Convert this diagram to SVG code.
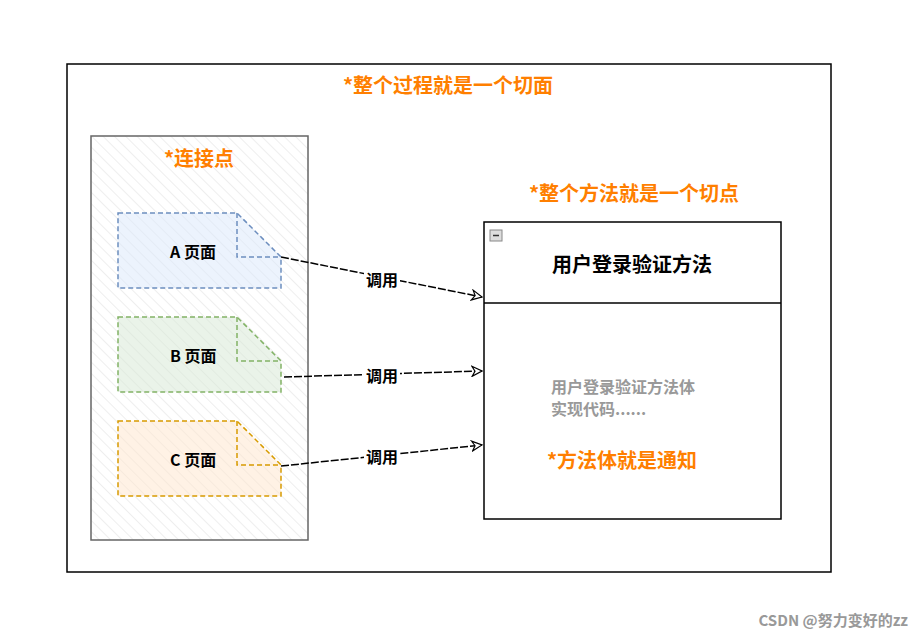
<svg xmlns="http://www.w3.org/2000/svg" width="922" height="638" viewBox="0 0 922 638">
<style>
text{font-family:"Noto Sans CJK SC","Liberation Sans",sans-serif;font-weight:bold}
.o{fill:#ff7f00;font-size:20px}
.pg{font-size:16px;fill:#000}
.lbl{font-size:16px;fill:#000}
.doc{stroke-dasharray:5 3;stroke-width:1.5}
</style>
<defs>
<pattern id="h" width="8" height="8" patternUnits="userSpaceOnUse" patternTransform="rotate(-45)">
<line x1="0" y1="0" x2="0" y2="8" stroke="#ddd" stroke-width="1"/>
</pattern>
<marker id="a" viewBox="0 0 12 12" refX="11" refY="6" markerWidth="12" markerHeight="12" markerUnits="userSpaceOnUse" orient="auto"><path d="M1,1 L11,6 L1,11 L4,6 Z" fill="#fff" stroke="#000" stroke-width="1.2"/></marker>
</defs>
<rect width="922" height="638" fill="#fff"/>
<g id="outer"><rect x="67" y="64" width="764" height="508" fill="none" stroke="#000" stroke-width="1.5"/>
<text x="448" y="93" class="o" text-anchor="middle">*整个过程就是一个切面</text></g>
<g id="joinpoints"><rect x="91" y="136" width="217" height="404" fill="url(#h)" stroke="#666" stroke-width="1.5"/>
<text x="199" y="166" class="o" text-anchor="middle">*连接点</text></g>
<g id="pageA"><path d="M118,213 H237 L281,257 V288 H118 Z" fill="#dae8fc" fill-opacity="0.5" stroke="#6c8ebf" class="doc"/>
<path d="M237,213 V257 H281" fill="none" stroke="#6c8ebf" class="doc"/>
<text x="170" y="258" class="pg">A 页面</text></g>
<g id="pageB"><path d="M118,317 H237 L281,361 V392 H118 Z" fill="#d5e8d4" fill-opacity="0.5" stroke="#82b366" class="doc"/>
<path d="M237,317 V361 H281" fill="none" stroke="#82b366" class="doc"/>
<text x="170" y="362" class="pg">B 页面</text></g>
<g id="pageC"><path d="M118,421 H237 L281,465 V496 H118 Z" fill="#ffe6cc" fill-opacity="0.5" stroke="#d79b00" class="doc"/>
<path d="M237,421 V465 H281" fill="none" stroke="#d79b00" class="doc"/>
<text x="170" y="466" class="pg">C 页面</text></g>
<g id="method">
<text x="634" y="201" class="o" text-anchor="middle">*整个方法就是一个切点</text>
<rect x="484" y="222" width="297" height="297" fill="#fff" stroke="#000" stroke-width="1.5"/>
<line x1="484" y1="303" x2="781" y2="303" stroke="#000" stroke-width="1.5"/>
<rect x="490" y="230" width="12" height="11" fill="#ddd" stroke="#888"/><line x1="493" y1="235.5" x2="499" y2="235.5" stroke="#333" stroke-width="1.5"/>
<text x="632" y="272" font-size="20" text-anchor="middle" fill="#000">用户登录验证方法</text>
<text x="551" y="393" font-size="16" fill="#999">用户登录验证方法体</text>
<text x="551" y="415" font-size="16" fill="#999">实现代码......</text>
<text x="622" y="468" class="o" text-anchor="middle">*方法体就是通知</text>
</g>
<g id="connectors" stroke="#000" stroke-width="1.5" fill="none">
<path d="M281,257 L482,297" marker-end="url(#a)" stroke-dasharray="8 2"/>
<path d="M284,377 L482,371" marker-end="url(#a)" stroke-dasharray="8 2"/>
<path d="M281,466 L482,445" marker-end="url(#a)" stroke-dasharray="8 2"/>
</g>
<g id="labels">
<rect x="364" y="270" width="36" height="19" fill="#fff"/><text x="382" y="286" class="lbl" text-anchor="middle">调用</text>
<rect x="364" y="367" width="36" height="19" fill="#fff"/><text x="382" y="382" class="lbl" text-anchor="middle">调用</text>
<rect x="364" y="448" width="36" height="19" fill="#fff"/><text x="382" y="463" class="lbl" text-anchor="middle">调用</text>
</g>
<text x="908" y="626" font-size="15" font-weight="normal" fill="#999" text-anchor="end">CSDN @努力变好的zz</text>
</svg>
